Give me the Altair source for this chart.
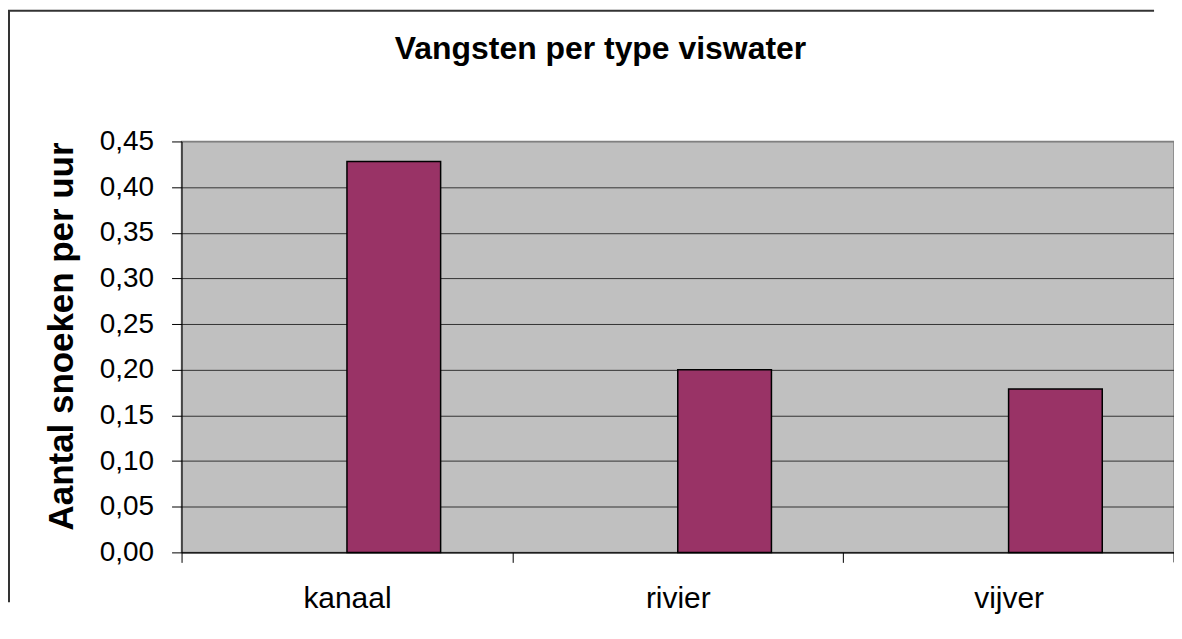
import altair as alt
import pandas as pd

# Data
categories = ["kanaal", "rivier", "vijver"]
values = [0.428, 0.200, 0.179]
series_names = ["leeg", "snoeken"]
y_ticks = [0.00, 0.05, 0.10, 0.15, 0.20, 0.25, 0.30, 0.35, 0.40, 0.45]
chart_title = "Vangsten per type viswater"
y_title = "Aantal snoeken per uur"

df = pd.DataFrame({"type": categories, "waarde": values, "serie": [series_names[1]] * len(categories)})

FONT = "Liberation Sans"
W, H = 995, 412

x_enc = alt.X(
    "type:N",
    sort=categories,
    scale=alt.Scale(paddingInner=0, paddingOuter=0),
    axis=alt.Axis(
        title=None,
        tickBand="extent",
        labelAngle=0,
        labelFontSize=30,
        labelColor="#000",
        labelBaseline="alphabetic",
        labelPadding=45,
        tickSize=10,
        tickColor="#000",
        domainColor="#000",
        domainWidth=1,
        grid=False,
    ),
)

y_enc = alt.Y(
    "waarde:Q",
    scale=alt.Scale(domain=[0, 0.45], nice=False),
    axis=alt.Axis(
        values=y_ticks,
        labelExpr="replace(format(datum.value, '.2f'), '.', ',')",
        labelFontSize=28,
        labelColor="#000",
        labelPadding=18,
        tickSize=10,
        tickColor="#000",
        domainColor="#000",
        domainWidth=1,
        grid=True,
        gridColor=alt.condition("datum.value > 0.449", alt.value("#808080"), alt.value("#333333")),
        gridWidth=1,
        title=y_title,
        titleFontSize=35,
        titleFontWeight="bold",
        titleColor="#000",
        titleAngle=270,
        titleX=-120,
        titleY=195,
        titleAlign="center",
        titleBaseline="middle",
    ),
)

bars = alt.Chart(df).mark_bar(
    fill="#993366", stroke="#000", strokeWidth=1.5
).encode(
    x=x_enc,
    xOffset=alt.XOffset(
        "serie:N",
        scale=alt.Scale(domain=series_names, paddingInner=0, paddingOuter=0.766),
    ),
    y=y_enc,
)

deco_df = pd.DataFrame({"t": [chart_title]})
title_text = alt.Chart(deco_df).mark_text(
    fontSize=32, fontWeight="bold", font=FONT, color="#000",
    align="center", baseline="alphabetic",
).encode(x=alt.value(420), y=alt.value(-83), text="t:N")

border_top = alt.Chart(deco_df).mark_rule(stroke="#333333", strokeWidth=2).encode(
    x=alt.value(-174), x2=alt.value(W - 20), y=alt.value(-131)
)
border_left = alt.Chart(deco_df).mark_rule(stroke="#333333", strokeWidth=2).encode(
    x=alt.value(-173), y=alt.value(-131), y2=alt.value(H + 50)
)
end_tick = alt.Chart(deco_df).mark_rule(stroke="#000", strokeWidth=1).encode(
    x=alt.value(W), y=alt.value(H), y2=alt.value(H + 10)
)

chart = alt.layer(bars, title_text, border_top, border_left, end_tick).properties(
    width=W,
    height=H,
    autosize=alt.AutoSizeParams(type="none"),
    padding={"left": 174, "top": 133, "right": 0, "bottom": 66},
).configure(font=FONT).configure_view(
    fill="#C0C0C0", stroke="#808080", strokeWidth=1.5
)

chart.save("out.html", embed_options={"renderer": "svg", "actions": False})
